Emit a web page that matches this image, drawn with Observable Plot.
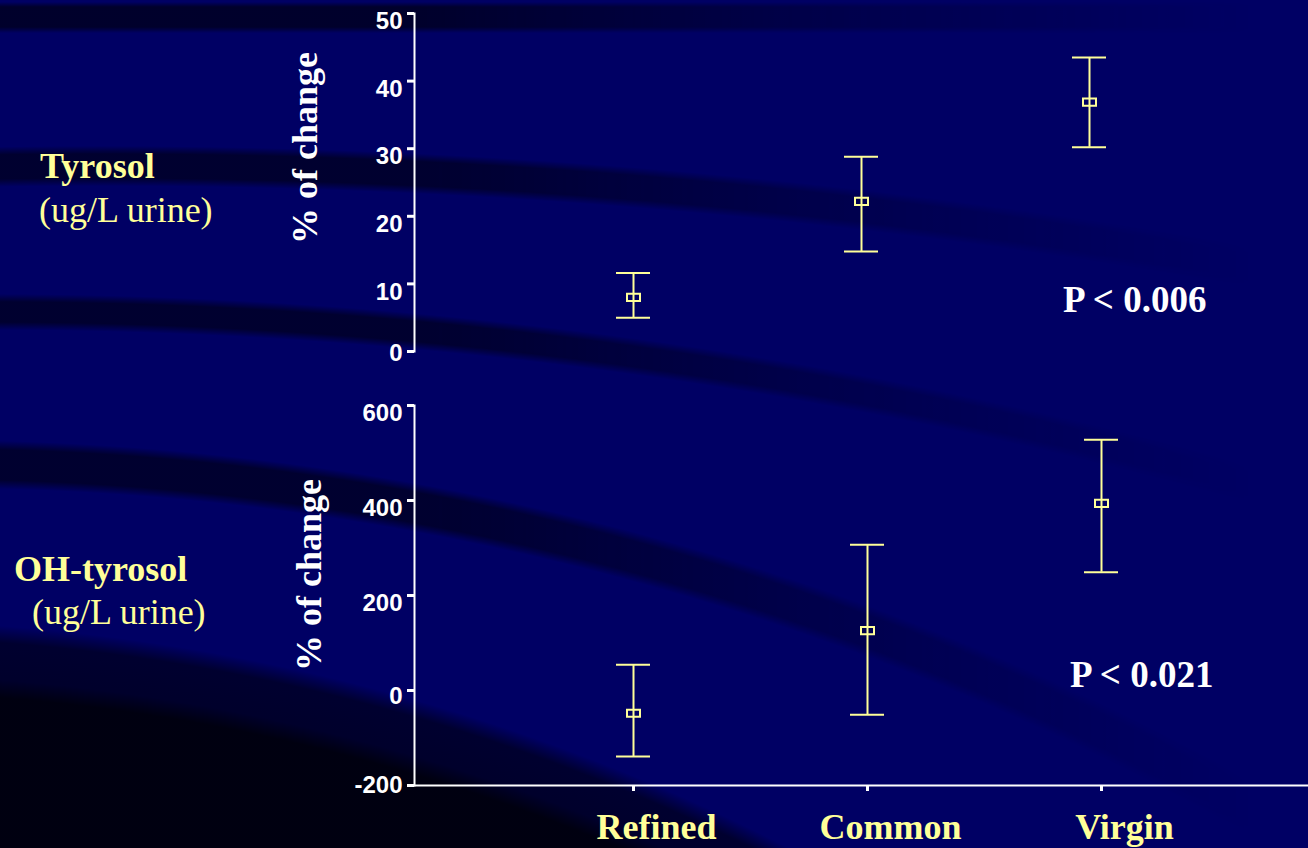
<!DOCTYPE html>
<html>
<head>
<meta charset="utf-8">
<script src="https://cdn.jsdelivr.net/npm/d3@7"></script>
<script src="https://cdn.jsdelivr.net/npm/@observablehq/plot@0.6"></script>
<style>
  html, body { margin: 0; padding: 0; background: #000064; }
  #slide {
    position: relative; width: 1308px; height: 848px; overflow: hidden;
    background:
      radial-gradient(circle at -153px 2682px, rgba(0,0,10,0.93) 0px, rgba(0,0,10,0.93) 1990px, rgba(0,0,25,0.75) 2008px, rgba(0,0,25,0.7) 2045px, rgba(0,0,25,0) 2062px),
      #000064;
  }
  #bands {
    position: absolute; left: 0; top: 0; width: 1308px; height: 848px;
    background:
      radial-gradient(circle at -68px 3163px, rgba(0,0,25,0) 2675px, rgba(0,0,25,0.7) 2684px, rgba(0,0,25,0.7) 2714px, rgba(0,0,25,0) 2723px),
      radial-gradient(circle at -12px 5023px, rgba(0,0,25,0) 4693px, rgba(0,0,25,0.7) 4701px, rgba(0,0,25,0.7) 4721px, rgba(0,0,25,0) 4729px),
      radial-gradient(circle at 101px 6769px, rgba(0,0,25,0) 6583px, rgba(0,0,25,0.7) 6591px, rgba(0,0,25,0.7) 6615px, rgba(0,0,25,0) 6623px),
      linear-gradient(to bottom, rgba(0,0,25,0) 2px, rgba(0,0,25,0.75) 7px, rgba(0,0,25,0.75) 27px, rgba(0,0,25,0) 33px);
    -webkit-mask-image: linear-gradient(to right, black 0px, black 420px, rgba(0,0,0,0.35) 900px, transparent 1250px);
    mask-image: linear-gradient(to right, black 0px, black 420px, rgba(0,0,0,0.35) 900px, transparent 1250px);
  }
  .plot { position: absolute; left: 0; }
  .plot g[aria-label="y-axis tick label"] text { font-size: 24px; font-weight: bold; font-family: "Liberation Sans", Arial, sans-serif; }
  .plot g[aria-label="x-axis tick label"] text { font-size: 36px; font-weight: bold; font-family: "Liberation Serif", "Times New Roman", serif; }
  .lbl { position: absolute; font-family: "Liberation Serif", "Times New Roman", serif; font-size: 36px; line-height: 36px; white-space: nowrap; }
  .yellow { color: #ffff99; }
  .white { color: #ffffff; }
  .bold { font-weight: bold; }
  .rot { transform: translate(-50%, -50%) rotate(-90deg); transform-origin: center center; }
</style>
</head>
<body>
<div id="slide">
  <div id="bands"></div>
  <div class="lbl yellow bold" style="left:40px; top:148px;">Tyrosol</div>
  <div class="lbl yellow" style="left:39px; top:192px;">(ug/L urine)</div>
  <div class="lbl yellow bold" style="left:14px; top:551px;">OH-tyrosol</div>
  <div class="lbl yellow" style="left:32px; top:594px;">(ug/L urine)</div>
  <div class="lbl white bold rot" style="left:305px; top:148px;">% of change</div>
  <div class="lbl white bold rot" style="left:309px; top:575px;">% of change</div>
  <div id="p1" class="lbl white bold" style="left:1063px; top:282px; font-size:37px;"></div>
  <div id="p2" class="lbl white bold" style="left:1070px; top:657px; font-size:37px;"></div>
</div>
<script>
// ---- data ----
const categories = ["Refined", "Common", "Virgin"];
const tyrosolMean = [8.0, 22.2, 36.9];
const tyrosolLow  = [5.0, 14.8, 30.2];
const tyrosolHigh = [11.6, 28.8, 43.5];
const ohMean = [-48, 126, 394];
const ohLow  = [-139, -51, 249];
const ohHigh = [54, 307, 528];
const tyrosolTicks = [0, 10, 20, 30, 40, 50];
const ohTicks = [-200, 0, 200, 400, 600];
const pValues = ["P < 0.006", "P < 0.021"];

const yellow = "#ffff99";
const rowsT = categories.map((c, i) => ({cat: c, mean: tyrosolMean[i], low: tyrosolLow[i], high: tyrosolHigh[i]}));
const rowsO = categories.map((c, i) => ({cat: c, mean: ohMean[i], low: ohLow[i], high: ohHigh[i]}));

document.getElementById("p1").textContent = pValues[0];
document.getElementById("p2").textContent = pValues[1];

// hollow rectangle marker for the means
const boxSymbol = {
  draw(ctx, size) {
    const r = Math.sqrt(size / Math.PI);
    const h = r * 0.55;
    ctx.moveTo(-r, -h); ctx.lineTo(r, -h); ctx.lineTo(r, h); ctx.lineTo(-r, h); ctx.closePath();
  }
};

const baseStyle = {background: "transparent", color: "white", overflow: "visible",
  fontFamily: "'Liberation Sans', Arial, sans-serif"};

function errorMarks(rows) {
  return [
    Plot.ruleX(rows, {x: "cat", y1: "low", y2: "high", stroke: yellow, strokeWidth: 2}),
    Plot.tickY(rows, {x: "cat", y: "low", stroke: yellow, strokeWidth: 2}),
    Plot.tickY(rows, {x: "cat", y: "high", stroke: yellow, strokeWidth: 2}),
    Plot.dot(rows, {x: "cat", y: "mean", r: 6.5, symbol: boxSymbol, stroke: yellow, strokeWidth: 2, fill: "none"})
  ];
}

const plainFormat = d => String(d);

function yAxisMarks(ticks, lowEnd) {
  const inner = ticks.filter(t => t !== lowEnd && t !== 0);
  const zero = ticks.filter(t => t === 0 && t !== lowEnd);
  const low = ticks.filter(t => t === lowEnd);
  const txt = {tickSize: 0, tickPadding: 12, fontSize: 24, fontWeight: "bold", fill: "white", label: null, tickFormat: plainFormat};
  return [
    Plot.axisY({ticks, tickSize: 7, strokeWidth: 3, strokeLinecap: "butt", fill: "none", label: null}),
    Plot.axisY({...txt, ticks: inner, dy: 8}),
    Plot.axisY({...txt, ticks: zero, dy: 6}),
    Plot.axisY({...txt, ticks: low, dy: lowEnd === 0 ? 2 : 0})
  ];
}

// ---- top panel: Tyrosol ----
const topPlot = Plot.plot({
  width: 1308, height: 362,
  marginLeft: 414, marginRight: 0, marginTop: 13, marginBottom: 11,
  style: baseStyle,
  x: {type: "band", domain: categories, paddingInner: 0.8515, paddingOuter: 0.878, align: 0.5, axis: null},
  y: {domain: [0, 50], axis: null},
  marks: [
    Plot.frame({anchor: "left", stroke: "white", strokeWidth: 2}),
    ...yAxisMarks(tyrosolTicks, 0),
    ...errorMarks(rowsT)
  ]
});
topPlot.classList.add("plot");
topPlot.style.top = "0px";

// ---- bottom panel: OH-tyrosol ----
const bottomPlot = Plot.plot({
  width: 1308, height: 458,
  marginLeft: 414, marginRight: 0, marginTop: 15, marginBottom: 63,
  style: baseStyle,
  x: {type: "band", domain: categories, paddingInner: 0.855, paddingOuter: 0.83, align: 0.515, axis: null},
  y: {domain: [-200, 600], axis: null},
  marks: [
    Plot.frame({anchor: "left", stroke: "white", strokeWidth: 2}),
    Plot.frame({anchor: "bottom", stroke: "white", strokeWidth: 2}),
    ...yAxisMarks(ohTicks, -200),
    Plot.axisX({tickSize: 6, strokeWidth: 3, strokeLinecap: "butt", fill: "none", label: null}),
    Plot.axisX({tickSize: 0, tickPadding: 28, dx: 23, fontSize: 36, fontWeight: "bold",
      fontFamily: "'Liberation Serif', 'Times New Roman', serif", fill: yellow, label: null}),
    ...errorMarks(rowsO)
  ]
});
bottomPlot.classList.add("plot");
bottomPlot.style.top = "390px";

const slide = document.getElementById("slide");
slide.appendChild(topPlot);
slide.appendChild(bottomPlot);
</script>
</body>
</html>
